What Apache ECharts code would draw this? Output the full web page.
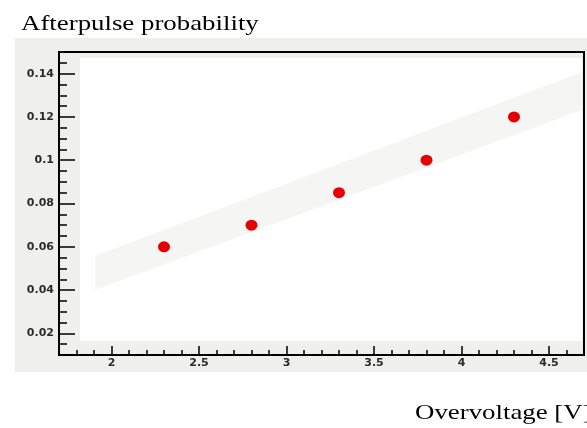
<!DOCTYPE html>
<html>
<head>
<meta charset="utf-8">
<title>Afterpulse probability</title>
<script src="https://cdn.jsdelivr.net/npm/echarts@6/dist/echarts.min.js"></script>
<style>
  html, body { margin: 0; padding: 0; background: #fff; }
  #chart { width: 587px; height: 428px; }
</style>
</head>
<body>
<div id="chart"></div>
<script>
// values
var overvoltage = [2.3, 2.8, 3.3, 3.8, 4.3];
var afterpulse = [0.06, 0.07, 0.085, 0.1, 0.12];
var xRange = [1.7, 4.7];
var yRange = [0.01, 0.15];
var yTitle = 'Afterpulse probability';
var xTitle = 'Overvoltage [V]';

var points = overvoltage.map(function (v, i) { return [v, afterpulse[i]]; });

var labelFont = {
  fontFamily: 'DejaVu Sans',
  fontWeight: 'bold',
  fontSize: 11,
  color: '#2b2b2b'
};

var myChart = echarts.init(document.getElementById('chart'));

var option = {
  backgroundColor: '#fff',
  animation: false,
  grid: {
    left: 59, right: 3, top: 52, bottom: 73,
    show: true,
    borderColor: '#000',
    borderWidth: 2,
    backgroundColor: 'transparent'
  },
  graphic: [
    // grey canvas around the frame
    { type: 'rect', z: -10, shape: { x: 15, y: 38, width: 572, height: 334 }, style: { fill: '#efefed' } },
    { type: 'rect', z: -9, shape: { x: 80, y: 58, width: 502, height: 283 }, style: { fill: '#fff' } },
    // faint diagonal smear behind the points
    { type: 'polygon', z: -8, shape: { points: [[95, 256], [582, 72], [582, 110], [95, 290]] }, style: { fill: '#f5f5f4' } },
    {
      type: 'text', x: 21, y: 13, scaleX: 1.22, z: 10,
      style: { text: yTitle, fontFamily: 'Liberation Serif', fontSize: 22, fill: '#000', verticalAlign: 'top' }
    },
    {
      type: 'text', x: 415, y: 402, scaleX: 1.22, z: 10,
      style: { text: xTitle, fontFamily: 'Liberation Serif', fontSize: 22, fill: '#000', verticalAlign: 'top' }
    }
  ],
  xAxis: [
    {
      type: 'value', min: xRange[0], max: xRange[1], splitNumber: 5,
      axisLine: { show: true, lineStyle: { color: '#000', width: 2 } },
      axisTick: { inside: true, length: 9, lineStyle: { color: '#000', width: 1.5 } },
      axisLabel: Object.assign({ margin: 3, showMinLabel: false, showMaxLabel: false }, labelFont),
      splitLine: { show: false }
    },
    {
      // minor ticks every 0.1
      type: 'value', min: xRange[0], max: xRange[1], interval: 0.1, position: 'bottom',
      axisLine: { show: false },
      axisTick: { inside: true, length: 5, lineStyle: { color: '#000', width: 1.5 } },
      axisLabel: { show: false },
      splitLine: { show: false }
    }
  ],
  yAxis: [
    {
      type: 'value', min: yRange[0], max: yRange[1], splitNumber: 7,
      axisLine: { show: true, lineStyle: { color: '#000', width: 2 } },
      axisTick: { inside: true, length: 16, lineStyle: { color: '#000', width: 1.5 } },
      axisLabel: Object.assign({ margin: 5, showMinLabel: false, showMaxLabel: false }, labelFont),
      splitLine: { show: false }
    },
    {
      // minor ticks every 0.005
      type: 'value', min: yRange[0], max: yRange[1], interval: 0.005, position: 'left',
      axisLine: { show: false },
      axisTick: { inside: true, length: 8, lineStyle: { color: '#000', width: 1.5 } },
      axisLabel: { show: false },
      splitLine: { show: false }
    }
  ],
  series: [
    {
      type: 'scatter',
      xAxisIndex: 0,
      yAxisIndex: 0,
      data: points,
      symbol: 'circle',
      symbolSize: [12, 11],
      itemStyle: { color: '#e60000', opacity: 1 }
    }
  ]
};

myChart.setOption(option);
</script>
</body>
</html>
